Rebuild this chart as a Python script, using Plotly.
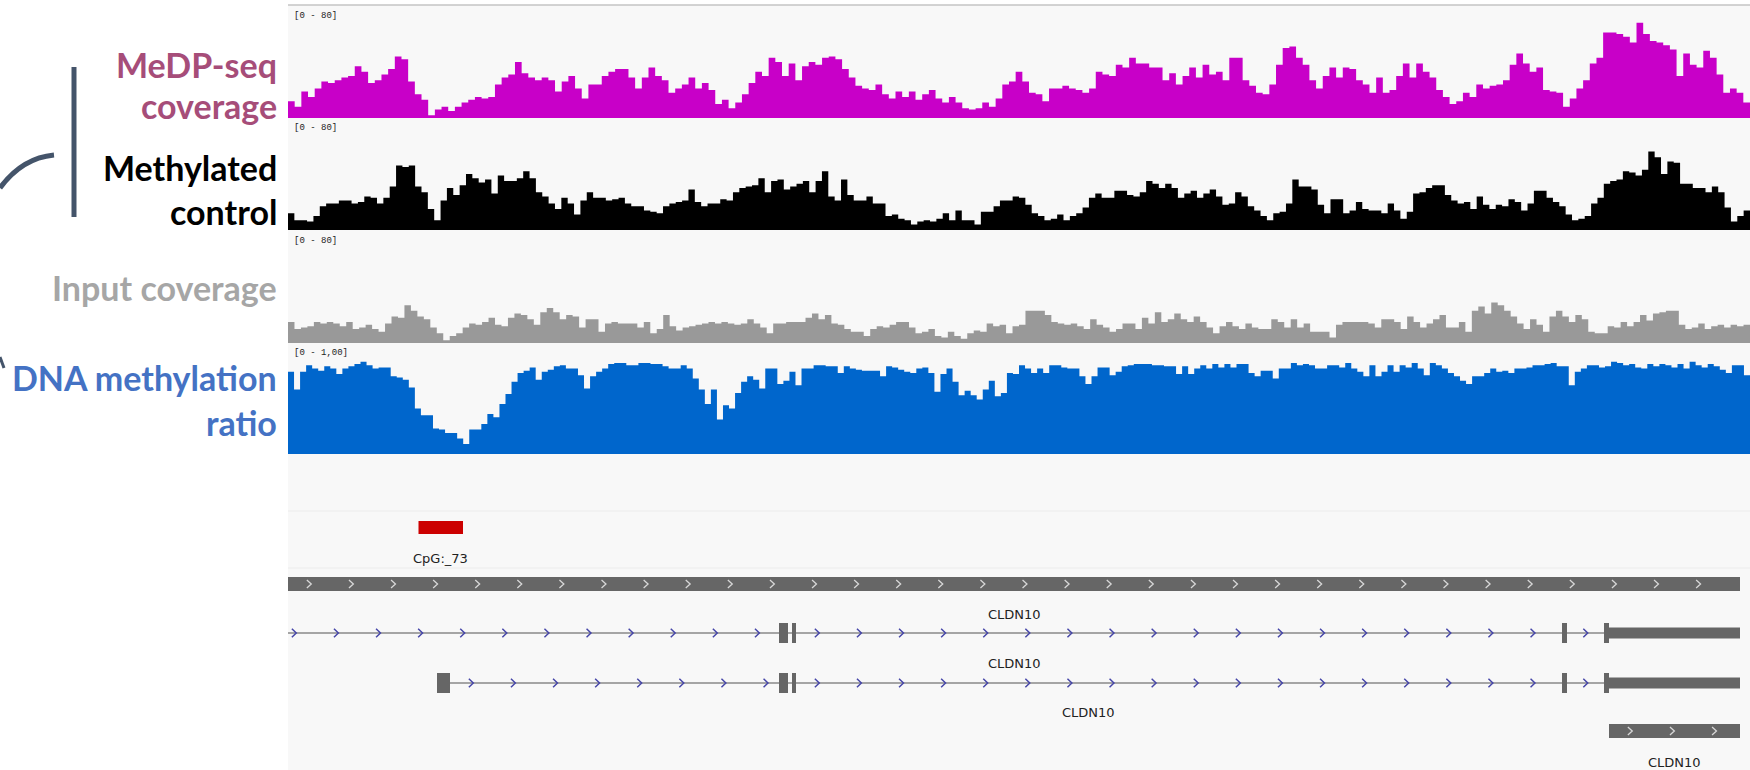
import numpy as np
import plotly.graph_objects as go

W, H = 1750, 770

# ---------------- DATA ----------------
VIEW_START_KB, VIEW_END_KB = 0.0, 146.2   # genomic window (kb, relative)

track_labels = ["MeDP-seq coverage", "Methylated control", "Input coverage", "DNA methylation ratio"]
track_ranges = ["[0 - 80]", "[0 - 80]", "[0 - 80]", "[0 - 1,00]"]
track_max = [80, 80, 80, 1.0]

medp_coverage = [
    12, 8, 19, 15, 21, 26, 25, 27, 29, 30, 37, 33, 25, 27, 31, 35, 44, 42, 26, 17,
    13, 2, 6, 8, 5, 8, 11, 13, 15, 14, 15, 24, 29, 31, 40, 32, 29, 27, 29, 27,
    19, 26, 30, 21, 14, 24, 24, 30, 33, 35, 35, 29, 21, 29, 36, 30, 27, 18, 21, 24,
    29, 21, 25, 20, 10, 13, 7, 11, 17, 25, 33, 30, 43, 40, 30, 39,
    27, 37, 40, 38, 43, 44, 42, 35, 29, 23, 21, 20, 24, 17, 14, 19, 15, 19, 13, 17,
    20, 14, 11, 15, 11, 7, 6, 7, 11, 8, 14, 24, 26, 33, 26, 18, 17, 12, 21, 21,
    23, 21, 20, 18, 21, 33, 31, 30, 38, 36, 43, 39, 39, 36, 36, 27, 32, 24, 30, 36,
    29, 38, 31, 33, 27, 43, 43, 27, 23, 18, 17, 24, 38, 50,
    51, 43, 38, 27, 21, 30, 36, 29, 36, 35, 27, 24, 18, 29, 18, 20, 30, 39, 29, 39,
    33, 29, 20, 15, 10, 12, 18, 15, 24, 21, 23, 24, 27, 38, 46, 39, 33, 36, 20, 19,
    18, 8, 14, 21, 27, 39, 43, 61, 61, 60, 58, 54, 68, 60, 55, 54, 52, 49, 30, 46,
    38, 36, 48, 43, 31, 18, 21, 18, 11,
]

methylated_control = [
    12, 7, 7, 6, 10, 17, 19, 19, 21, 21, 19, 20, 24, 23, 19, 23, 31, 46, 45, 46,
    31, 27, 15, 7, 21, 30, 25, 32, 40, 37, 34, 36, 26, 39, 35, 35, 37, 42, 37, 27,
    24, 19, 15, 23, 19, 11, 21, 27, 23, 23, 21, 22, 23, 19, 17, 17, 14, 13, 12, 17,
    19, 20, 21, 29, 20, 17, 19, 19, 22, 21, 27, 30, 31, 32, 37, 27, 35, 36,
    29, 31, 33, 35, 27, 35, 42, 24, 21, 36, 25, 21, 21, 24, 19, 19, 10, 11, 8, 7,
    4, 6, 7, 6, 8, 12, 7, 14, 7, 7, 4, 13, 13, 17, 21, 21, 24, 23, 18, 12,
    10, 7, 8, 11, 7, 10, 12, 16, 23, 26, 23, 23, 28, 28, 25, 24, 27, 35, 33, 30,
    33, 30, 23, 26, 28, 23, 26, 29, 24, 18, 19, 27, 24, 17, 14, 10, 7, 12, 13, 19, 36,
    31, 31, 29, 18, 12, 22, 22, 12, 14, 20, 15, 14, 14, 12, 19, 14, 8, 13, 26, 27,
    30, 32, 32, 25, 21, 19, 20, 15, 24, 18, 15, 18, 17, 22, 20, 14, 19, 28, 28, 23,
    20, 17, 11, 7, 8, 10, 19, 23, 33, 35, 36, 42, 41, 39, 43, 56, 52, 40, 49, 48,
    33, 33, 30, 30, 27, 31, 27, 16, 6, 10, 14,
]

input_coverage = [
    15, 10, 11, 12, 15, 14, 15, 14, 12, 15, 10, 11, 13, 10, 8, 14, 19, 18, 27, 23,
    19, 17, 11, 7, 2, 5, 7, 11, 14, 13, 15, 18, 13, 12, 18, 21, 20, 17, 13, 22,
    25, 22, 17, 20, 19, 11, 17, 17, 8, 14, 15, 14, 14, 14, 11, 15, 7, 10, 20, 12,
    9, 11, 12, 13, 14, 15, 14, 15, 14, 13, 14, 17, 14, 11, 7, 14, 14, 15, 15, 15,
    18, 21, 17, 20, 14, 13, 10, 8, 8, 5, 10, 12, 11, 13, 15, 15, 11, 7, 8, 10,
    5, 4, 8, 5, 3, 7, 9, 8, 14, 12, 13, 7, 12, 13, 23, 23, 23, 20, 15, 14,
    13, 14, 12, 10, 17, 13, 11, 8, 10, 14, 14, 10, 18, 14, 22, 15, 17, 21, 17, 15,
    19, 15, 11, 7, 12, 15, 12, 10, 14, 11, 10, 10, 17, 15, 11, 17,
    11, 14, 8, 8, 8, 4, 13, 15, 15, 15, 15, 14, 11, 17, 17, 15, 10, 19, 15, 11,
    14, 17, 20, 11, 11, 15, 8, 23, 26, 21, 29, 27, 23, 19, 14, 10, 17, 13, 8, 19,
    23, 19, 15, 20, 17, 8, 7, 7, 12, 11, 15, 12, 15, 20, 16, 21, 22, 23, 23, 13,
    10, 11, 14, 10, 12, 13, 11, 13, 12, 13,
]

methylation_ratio = [
    0.74, 0.58, 0.74, 0.80, 0.77, 0.75, 0.79, 0.77, 0.72, 0.77, 0.79, 0.81, 0.83, 0.80, 0.77, 0.78, 0.78, 0.70, 0.69, 0.67,
    0.60, 0.41, 0.35, 0.35, 0.23, 0.22, 0.19, 0.19, 0.14, 0.09, 0.22, 0.22, 0.27, 0.36, 0.33, 0.45, 0.54, 0.65, 0.73, 0.75,
    0.78, 0.67, 0.74, 0.76, 0.79, 0.80, 0.77, 0.77, 0.71, 0.59, 0.70, 0.74, 0.77, 0.81, 0.82, 0.82, 0.80, 0.80, 0.82, 0.82,
    0.81, 0.81, 0.79, 0.77, 0.77, 0.80, 0.77, 0.68, 0.58, 0.45, 0.58, 0.31, 0.44, 0.41, 0.55, 0.65, 0.70, 0.67, 0.59, 0.77,
    0.77, 0.63, 0.66, 0.74,
    0.62, 0.77, 0.77, 0.80, 0.80, 0.79, 0.79, 0.73, 0.79, 0.77, 0.76, 0.75, 0.75, 0.75, 0.70, 0.79, 0.78, 0.76, 0.74, 0.73,
    0.77, 0.78, 0.73, 0.56, 0.72, 0.77, 0.65, 0.53, 0.57, 0.53, 0.49, 0.58, 0.66, 0.52, 0.55, 0.73, 0.72, 0.80, 0.77, 0.73,
    0.77, 0.73, 0.80, 0.80, 0.78, 0.77, 0.77, 0.70, 0.63, 0.70, 0.78, 0.78, 0.71, 0.74, 0.79, 0.80, 0.81, 0.81, 0.81, 0.80,
    0.80, 0.79, 0.79, 0.72, 0.79, 0.72, 0.77, 0.80, 0.77, 0.81, 0.78, 0.81, 0.78, 0.81, 0.81, 0.73, 0.70, 0.75, 0.75, 0.68,
    0.77, 0.77,
    0.82, 0.80, 0.81, 0.80, 0.77, 0.77, 0.80, 0.80, 0.78, 0.82, 0.77, 0.74, 0.70, 0.80, 0.70, 0.74, 0.80, 0.74, 0.80, 0.78,
    0.82, 0.77, 0.71, 0.82, 0.80, 0.77, 0.73, 0.70, 0.66, 0.63, 0.70, 0.70, 0.73, 0.77, 0.74, 0.75, 0.73, 0.77, 0.77, 0.78,
    0.80, 0.80, 0.81, 0.82, 0.79, 0.79, 0.62, 0.74, 0.77, 0.80, 0.80, 0.78, 0.79, 0.83, 0.82, 0.80, 0.81, 0.78, 0.77, 0.81,
    0.79, 0.81, 0.80, 0.78, 0.81, 0.77, 0.83, 0.80, 0.78, 0.81, 0.79, 0.76, 0.73, 0.80, 0.80, 0.71,
]

# CpG island annotation
cpg_start, cpg_end, cpg_name = 13.05, 17.5, "CpG:_73"

# gene models (kb)
gene_name = "CLDN10"
block_row1 = (0.0, 145.2)                       # whole-gene block
tx_a_span = (-1.5, 145.2)
tx_a_exons = [(49.1, 50.0), (50.4, 50.8), (127.4, 127.9), (131.6, 145.2)]
tx_b_span = (14.9, 145.2)
tx_b_exons = [(14.9, 16.2), (49.1, 50.0), (50.4, 50.8), (127.4, 127.9), (131.6, 145.2)]
cds_end = 132.1                                 # thick part ends, 3' UTR after
block_row4 = (132.1, 145.2)
CHEVRON_SPACING_KB = 4.21

# ---------------- STYLE / LAYOUT ----------------
PANEL_LEFT = 288
track_px = [(6, 118), (118, 230), (231, 343), (343, 454)]
track_colors = ["#C800C8", "#000000", "#999999", "#0066CC"]
label_colors = ["#A64D79", "#000000", "#A6A6A6", "#4472C4"]
GENE_TOP = 456
EXON_COLOR = "#666666"
INTRON_COLOR = "#8a8a8a"
CHEV_BLUE = "#4646a8"
CHEV_LIGHT = "#d8d8d8"

def pxx(px):
    return px / W

def pxy(py):
    return 1 - py / H

def gy(py):
    return py - GENE_TOP

fig = go.Figure()

# coverage tracks
series = [medp_coverage, methylated_control, input_coverage, methylation_ratio]
axes = ["y", "y2", "y3", "y4"]
for vals, ax, col in zip(series, axes, track_colors):
    n = len(vals)
    edges = np.linspace(VIEW_START_KB, VIEW_END_KB, n + 1)
    yv = list(vals) + [vals[-1]]
    fig.add_trace(go.Scatter(x=edges, y=yv, mode="lines",
                             line=dict(width=0, shape="hv", color=col),
                             fill="tozeroy", fillcolor=col, xaxis="x", yaxis=ax,
                             hoverinfo="skip", showlegend=False))

shapes = []
annotations = []

# panel background and borders
shapes.append(dict(type="rect", xref="paper", yref="paper", x0=pxx(PANEL_LEFT), x1=1,
                   y0=0, y1=pxy(5), fillcolor="#f8f8f8", line=dict(width=0), layer="below"))
shapes.append(dict(type="line", xref="paper", yref="paper", x0=pxx(PANEL_LEFT), x1=1,
                   y0=pxy(5), y1=pxy(5), line=dict(color="#c4c4c4", width=1.5)))
for sep in (511, 568):
    shapes.append(dict(type="line", xref="paper", yref="paper", x0=pxx(PANEL_LEFT), x1=1,
                       y0=pxy(sep), y1=pxy(sep), line=dict(color="#ececec", width=1), layer="below"))

# range labels
for (top, bot), txt in zip(track_px, track_ranges):
    annotations.append(dict(xref="paper", yref="paper", x=pxx(PANEL_LEFT + 4), y=pxy(top + 10),
                            text=txt, showarrow=False, xanchor="left", yanchor="middle",
                            font=dict(family="Liberation Mono", size=9, color="#222222")))

# left labels
label_lines = [("MeDP-seq", 77, 0), ("coverage", 118, 0), ("Methylated", 180, 1), ("control", 224, 1),
               ("Input coverage", 300, 2), ("DNA methylation", 390, 3), ("ratio", 435, 3)]
LBL_SIZE = 34
for txt, base, ci in label_lines:
    annotations.append(dict(xref="paper", yref="paper", x=pxx(279), y=pxy(base - 0.36 * LBL_SIZE),
                            text="<b>%s</b>" % txt, showarrow=False, xanchor="right", yanchor="middle",
                            font=dict(family="Lato", size=LBL_SIZE, color=label_colors[ci])))

# left decorations
deco = "#44546A"
shapes.append(dict(type="line", xref="paper", yref="paper", x0=pxx(74), x1=pxx(74),
                   y0=pxy(67), y1=pxy(217), line=dict(color=deco, width=5)))
shapes.append(dict(type="path", xref="paper", yref="paper",
                   path="M %f,%f Q %f,%f %f,%f" % (pxx(54), pxy(155), pxx(22), pxy(158), pxx(0), pxy(188)),
                   line=dict(color=deco, width=5)))
shapes.append(dict(type="line", xref="paper", yref="paper", x0=pxx(0), x1=pxx(4),
                   y0=pxy(357), y1=pxy(368), line=dict(color=deco, width=3)))

# --- feature tracks ---
def clip(a, b):
    return max(a, VIEW_START_KB), min(b, VIEW_END_KB)

def rect(x0, x1, y0, y1, color):
    x0, x1 = clip(x0, x1)
    shapes.append(dict(type="rect", xref="x", yref="y5", x0=x0, x1=x1, y0=gy(y0), y1=gy(y1),
                       fillcolor=color, line=dict(width=0), layer="below"))

chev_blue_x, chev_blue_y, chev_light_x, chev_light_y = [], [], [], []

def chevrons(a, b, yc, half_h, xs, ys):
    length = b - a
    if length < CHEVRON_SPACING_KB:
        pos = [(a + b) / 2]
    else:
        pos = list(np.arange(a + CHEVRON_SPACING_KB / 2, b - CHEVRON_SPACING_KB / 4, CHEVRON_SPACING_KB))
    for c in pos:
        if c < VIEW_START_KB + 0.2 or c > VIEW_END_KB:
            continue
        xs += [c - 0.22, c + 0.22, c - 0.22, None]
        ys += [gy(yc - half_h), gy(yc), gy(yc + half_h), None]

def label(xc, yc, txt):
    annotations.append(dict(xref="x", yref="y5", x=xc, y=gy(yc), text=txt, showarrow=False,
                            xanchor="center", yanchor="middle",
                            font=dict(family="DejaVu Sans", size=13, color="#222222")))

# CpG island
rect(cpg_start, cpg_end, 521, 534, "#CC0000")
label((cpg_start + cpg_end) / 2, 558, cpg_name)

# row 1 block
rect(block_row1[0], block_row1[1], 577, 591, EXON_COLOR)
chevrons(block_row1[0], block_row1[1], 584, 4, chev_light_x, chev_light_y)
vs, ve = clip(*block_row1)
label((vs + ve) / 2, 614, gene_name)

def transcript(span, exons, yc, label_y):
    s, e = clip(*span)
    shapes.append(dict(type="line", xref="x", yref="y5", x0=s, x1=e, y0=gy(yc), y1=gy(yc),
                       line=dict(color=INTRON_COLOR, width=1.6), layer="below"))
    for (a, b) in exons:
        if b > cds_end and a < cds_end:
            rect(a, cds_end, yc - 10, yc + 10, EXON_COLOR)
            rect(cds_end, b, yc - 5.5, yc + 5.5, EXON_COLOR)
        else:
            rect(a, b, yc - 10, yc + 10, EXON_COLOR)
    starts = [span[0]] + [b for (a, b) in exons]
    ends = [a for (a, b) in exons] + [span[1]]
    for a, b in zip(starts, ends):
        if b - a > 1.5:
            chevrons(a, b, yc, 4.2, chev_blue_x, chev_blue_y)
    if label_y is not None:
        label((s + e) / 2, label_y, gene_name)

transcript(tx_a_span, tx_a_exons, 633, 663)
transcript(tx_b_span, tx_b_exons, 683, 712)

# row 4 block
rect(block_row4[0], block_row4[1], 724, 738, EXON_COLOR)
chevrons(block_row4[0], block_row4[1], 731, 4, chev_light_x, chev_light_y)
label((block_row4[0] + block_row4[1]) / 2, 762, gene_name)

fig.add_trace(go.Scatter(x=chev_blue_x, y=chev_blue_y, mode="lines", xaxis="x", yaxis="y5",
                         line=dict(color=CHEV_BLUE, width=1.5), hoverinfo="skip", showlegend=False))
fig.add_trace(go.Scatter(x=chev_light_x, y=chev_light_y, mode="lines", xaxis="x", yaxis="y5",
                         line=dict(color=CHEV_LIGHT, width=1.3), hoverinfo="skip", showlegend=False))

ydoms = [[pxy(b), pxy(t)] for (t, b) in track_px]
layout_axes = {}
for i, (dom, mx) in enumerate(zip(ydoms, track_max)):
    key = "yaxis" if i == 0 else "yaxis%d" % (i + 1)
    layout_axes[key] = dict(domain=dom, range=[0, mx], visible=False, anchor="x", fixedrange=True)
layout_axes["yaxis5"] = dict(domain=[0, pxy(GENE_TOP)], range=[H - GENE_TOP, 0], visible=False,
                             anchor="x", fixedrange=True)

fig.update_layout(
    width=W, height=H, margin=dict(l=0, r=0, t=0, b=0),
    paper_bgcolor="white", plot_bgcolor="rgba(0,0,0,0)", showlegend=False,
    xaxis=dict(domain=[pxx(PANEL_LEFT), 1], range=[VIEW_START_KB, VIEW_END_KB], visible=False,
               anchor="y5", fixedrange=True),
    shapes=shapes, annotations=annotations, **layout_axes,
)

fig.write_html("out.html", config={"displayModeBar": False},
               post_script="document.body.style.margin='0';document.body.style.overflow='hidden';")
